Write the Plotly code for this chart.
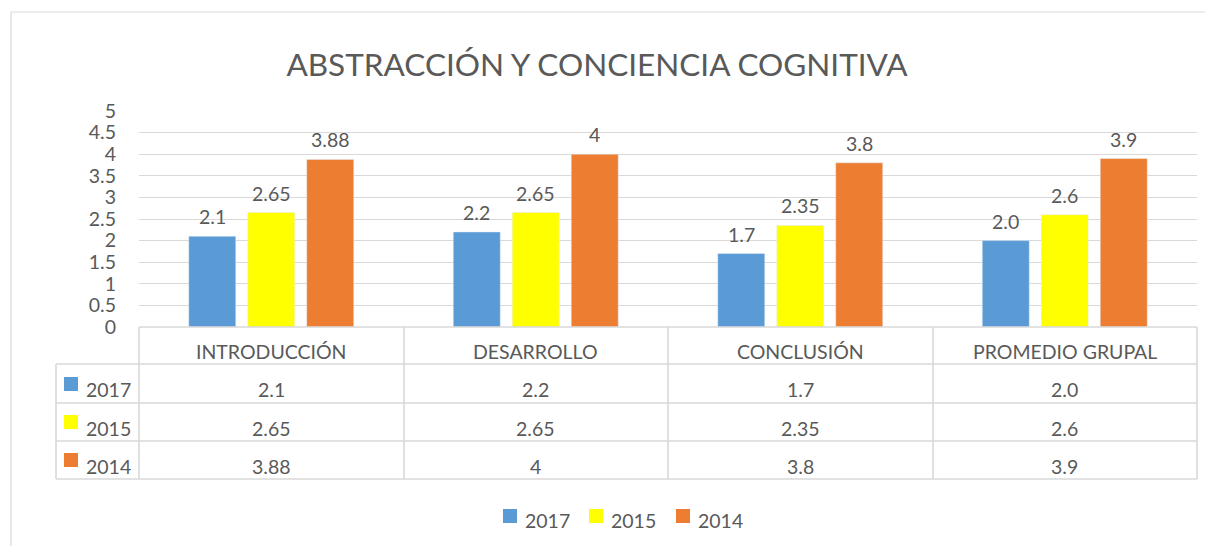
import plotly.graph_objects as go

# ---------------- data ----------------
categories = ["INTRODUCCIÓN", "DESARROLLO", "CONCLUSIÓN", "PROMEDIO GRUPAL"]
series_names = ["2017", "2015", "2014"]
values_2017 = [2.1, 2.2, 1.7, 2.0]
values_2015 = [2.65, 2.65, 2.35, 2.6]
values_2014 = [3.88, 4.0, 3.8, 3.9]
labels_2017 = ["2.1", "2.2", "1.7", "2.0"]
labels_2015 = ["2.65", "2.65", "2.35", "2.6"]
labels_2014 = ["3.88", "4", "3.8", "3.9"]
title_text = "ABSTRACCIÓN Y CONCIENCIA COGNITIVA"

series_values = [values_2017, values_2015, values_2014]
series_labels = [labels_2017, labels_2015, labels_2014]
colors = ["#5B9BD5", "#FFFF00", "#ED7D31"]

# ---------------- layout geometry (page pixels) ----------------
PAGE_W, PAGE_H = 1213, 546
OFF = 8  # page body margin
W, H = PAGE_W - OFF, PAGE_H - OFF
L, R, T, B = 139, 1197, 111, 327
FONT = "Lato"
TXT = "#595959"
GRID = "#D9D9D9"
FS = 19.5


def xp(x):
    return (x - L) / (R - L)


def yp(y):
    return (B - y) / (B - T)


fig = go.Figure()
for name, vals, col in zip(series_names, series_values, colors):
    fig.add_trace(go.Bar(name=name, x=categories, y=vals, marker_color=col, showlegend=False))

shapes = []
annotations = []

# data labels above bars
bar_shift = [-59, 0, 59]
for vals, labs, sh in zip(series_values, series_labels, bar_shift):
    for cat, v, lab in zip(categories, vals, labs):
        annotations.append(dict(x=cat, xref="x", y=v, yref="y", text=lab, showarrow=False,
                                xanchor="center", yanchor="bottom", xshift=sh, yshift=6,
                                font=dict(family=FONT, size=FS, color=TXT)))

# outer chart border (left and top edges visible)
shapes.append(dict(type="line", xref="paper", yref="paper", x0=xp(11), x1=xp(1300),
                   y0=yp(12), y1=yp(12), line=dict(color=GRID, width=1.2)))
shapes.append(dict(type="line", xref="paper", yref="paper", x0=xp(11), x1=xp(11),
                   y0=yp(12), y1=yp(700), line=dict(color=GRID, width=1.2)))

# data table grid
row_edges = [327, 364, 403, 441, 479]
col_edges = [139, 404, 668, 933, 1197]
tl = dict(color=GRID, width=1.6)
shapes.append(dict(type="line", xref="paper", yref="paper", x0=xp(139), x1=xp(1197),
                   y0=yp(327), y1=yp(327), line=tl))
for yy in row_edges[1:]:
    shapes.append(dict(type="line", xref="paper", yref="paper", x0=xp(56), x1=xp(1197),
                       y0=yp(yy), y1=yp(yy), line=tl))
for xx in col_edges:
    shapes.append(dict(type="line", xref="paper", yref="paper", x0=xp(xx), x1=xp(xx),
                       y0=yp(327), y1=yp(479), line=tl))
shapes.append(dict(type="line", xref="paper", yref="paper", x0=xp(56), x1=xp(56),
                   y0=yp(364), y1=yp(479), line=tl))

# header row: category names
for cat in categories:
    annotations.append(dict(x=cat, xref="x", y=yp(351), yref="paper", text=cat,
                            showarrow=False, xanchor="center", yanchor="middle",
                            font=dict(family=FONT, size=FS, color=TXT)))

# value rows
row_text_y = [389, 428, 466]
row_key_y = [384, 422, 460]
for name, labs, col, ty, ky in zip(series_names, series_labels, colors, row_text_y, row_key_y):
    shapes.append(dict(type="rect", xref="paper", yref="paper", x0=xp(64), x1=xp(78),
                       y0=yp(ky - 7), y1=yp(ky + 7), fillcolor=col, line=dict(width=0)))
    annotations.append(dict(x=xp(84), xref="paper", y=yp(ty), yref="paper", text=name,
                            showarrow=False, xanchor="left", yanchor="middle",
                            font=dict(family=FONT, size=FS, color=TXT)))
    for cat, lab in zip(categories, labs):
        annotations.append(dict(x=cat, xref="x", y=yp(ty), yref="paper", text=lab,
                                showarrow=False, xanchor="center", yanchor="middle",
                                font=dict(family=FONT, size=FS, color=TXT)))

# bottom legend
leg_sq_x = [503, 589, 676]
for name, col, sx in zip(series_names, colors, leg_sq_x):
    shapes.append(dict(type="rect", xref="paper", yref="paper", x0=xp(sx), x1=xp(sx + 14),
                       y0=yp(509), y1=yp(523), fillcolor=col, line=dict(width=0)))
    annotations.append(dict(x=xp(sx + 20), xref="paper", y=yp(520), yref="paper", text=name,
                            showarrow=False, xanchor="left", yanchor="middle",
                            font=dict(family=FONT, size=FS, color=TXT)))

fig.update_layout(
    width=W, height=H,
    margin=dict(l=L - OFF, r=PAGE_W - R, t=T - OFF, b=PAGE_H - B, pad=0),
    paper_bgcolor="white", plot_bgcolor="white",
    barmode="group", bargap=0.331, bargroupgap=0.203,
    title=dict(text=title_text, x=(597 - OFF) / W, xanchor="center",
               y=1 - (65 - OFF) / H, yanchor="middle",
               font=dict(family=FONT, size=31.5, color=TXT)),
    font=dict(family=FONT, color=TXT),
    shapes=shapes, annotations=annotations,
    xaxis=dict(range=[-0.5, 3.5], showticklabels=False, showgrid=False, zeroline=False,
               showline=False, ticks=""),
    yaxis=dict(range=[0, 5], dtick=0.5, tick0=0, showgrid=True, gridcolor=GRID, gridwidth=1.3,
               zeroline=False, showline=False, ticks="", ticklabelstandoff=22,
               tickfont=dict(family=FONT, size=FS, color=TXT)),
    hovermode=False,
)

fig.write_html("out.html")
